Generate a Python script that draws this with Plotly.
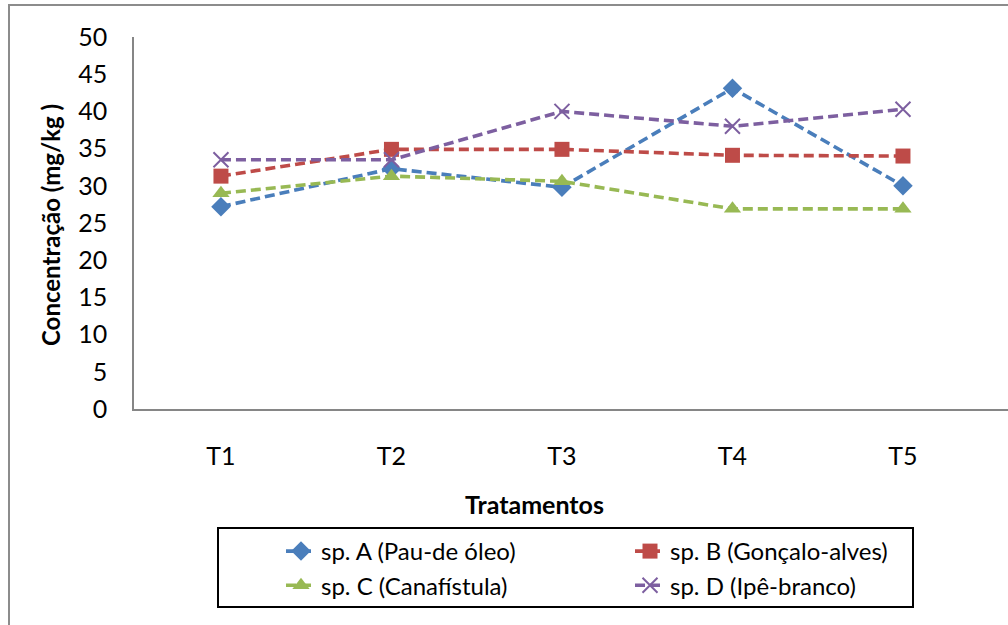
import plotly.graph_objects as go

# Treatments on the x axis
tratamentos = ["T1", "T2", "T3", "T4", "T5"]

# Concentration (mg/kg) per species and treatment
sp_a = [27.2, 32.3, 29.8, 43.1, 30.0]
sp_b = [31.3, 34.9, 34.9, 34.1, 34.0]
sp_c = [29.0, 31.3, 30.6, 26.9, 26.9]
sp_d = [33.5, 33.5, 40.0, 38.0, 40.3]

nomes = [
    "sp. A (Pau-de óleo)",
    "sp. B (Gonçalo-alves)",
    "sp. C (Canafístula)",
    "sp. D (Ipê-branco)",
]
cores = ["#4A7EBB", "#BE4B48", "#98B954", "#7D5FA0"]
simbolos = ["diamond", "square", "triangle-up", "x-thin-open"]
tamanhos = [15, 15, 15, 15]

FONT = "Lato"

# plot area in pixels
L, T, W, H = 134, 37, 874, 372


def px_x(p):
    return (p - L) / W


def px_y(p):
    return (T + H - p) / H


fig = go.Figure()
for nome, serie, cor, simb, tam in zip(nomes, [sp_a, sp_b, sp_c, sp_d], cores, simbolos, tamanhos):
    fig.add_trace(go.Scatter(
        x=tratamentos, y=serie, name=nome, mode="lines+markers",
        line=dict(color=cor, width=3.6, dash="10px,5px"),
        marker=dict(symbol=simb, size=tam, color=cor,
                    line=dict(color=cor, width=2 if simb.startswith("x") else 0)),
    ))

fig.update_layout(
    width=1008, height=625,
    margin=dict(l=L, r=1008 - L - W, t=T, b=625 - T - H),
    paper_bgcolor="white", plot_bgcolor="white",
    font=dict(family=FONT, size=25, color="black"),
    showlegend=True,
    legend=dict(
        orientation="h", x=px_x(281), y=px_y(529), xanchor="left", yanchor="top",
        entrywidth=304, entrywidthmode="pixels",
        bgcolor="rgba(0,0,0,0)", borderwidth=0,
        font=dict(family=FONT, size=24, color="black"),
    ),
    xaxis=dict(
        type="category", range=[-0.51, 4.616],
        showline=True, linecolor="#868686", linewidth=1.5,
        showgrid=False, zeroline=False,
        ticks="outside", ticklen=24, tickcolor="rgba(0,0,0,0)",
        tickfont=dict(family=FONT, size=25),
    ),
    yaxis=dict(
        range=[0, 50], dtick=5,
        showline=True, linecolor="#868686", linewidth=1.5,
        showgrid=False, zeroline=False,
        ticks="outside", ticklen=20, tickcolor="rgba(0,0,0,0)",
        tickfont=dict(family=FONT, size=25),
    ),
    annotations=[
        dict(text="<b>Tratamentos</b>", xref="paper", yref="paper",
             x=px_x(534), y=px_y(504),
             xanchor="center", yanchor="middle", showarrow=False,
             font=dict(family=FONT, size=25)),
        dict(text="<b>Concentração (mg/kg )</b>", xref="paper", yref="paper",
             x=px_x(50), y=px_y(225), textangle=-90,
             xanchor="center", yanchor="middle", showarrow=False,
             font=dict(family=FONT, size=24)),
    ],
    shapes=[
        # outer chart frame
        dict(type="rect", xref="paper", yref="paper",
             x0=px_x(9), x1=px_x(1030), y0=px_y(660), y1=px_y(5),
             line=dict(color="#8C8C8C", width=2), fillcolor="rgba(0,0,0,0)",
             layer="below"),
        # legend frame
        dict(type="rect", xref="paper", yref="paper",
             x0=px_x(218), x1=px_x(913), y0=px_y(607), y1=px_y(528),
             line=dict(color="black", width=2), fillcolor="rgba(0,0,0,0)",
             layer="below"),
    ],
)

fig.write_html("out.html")
